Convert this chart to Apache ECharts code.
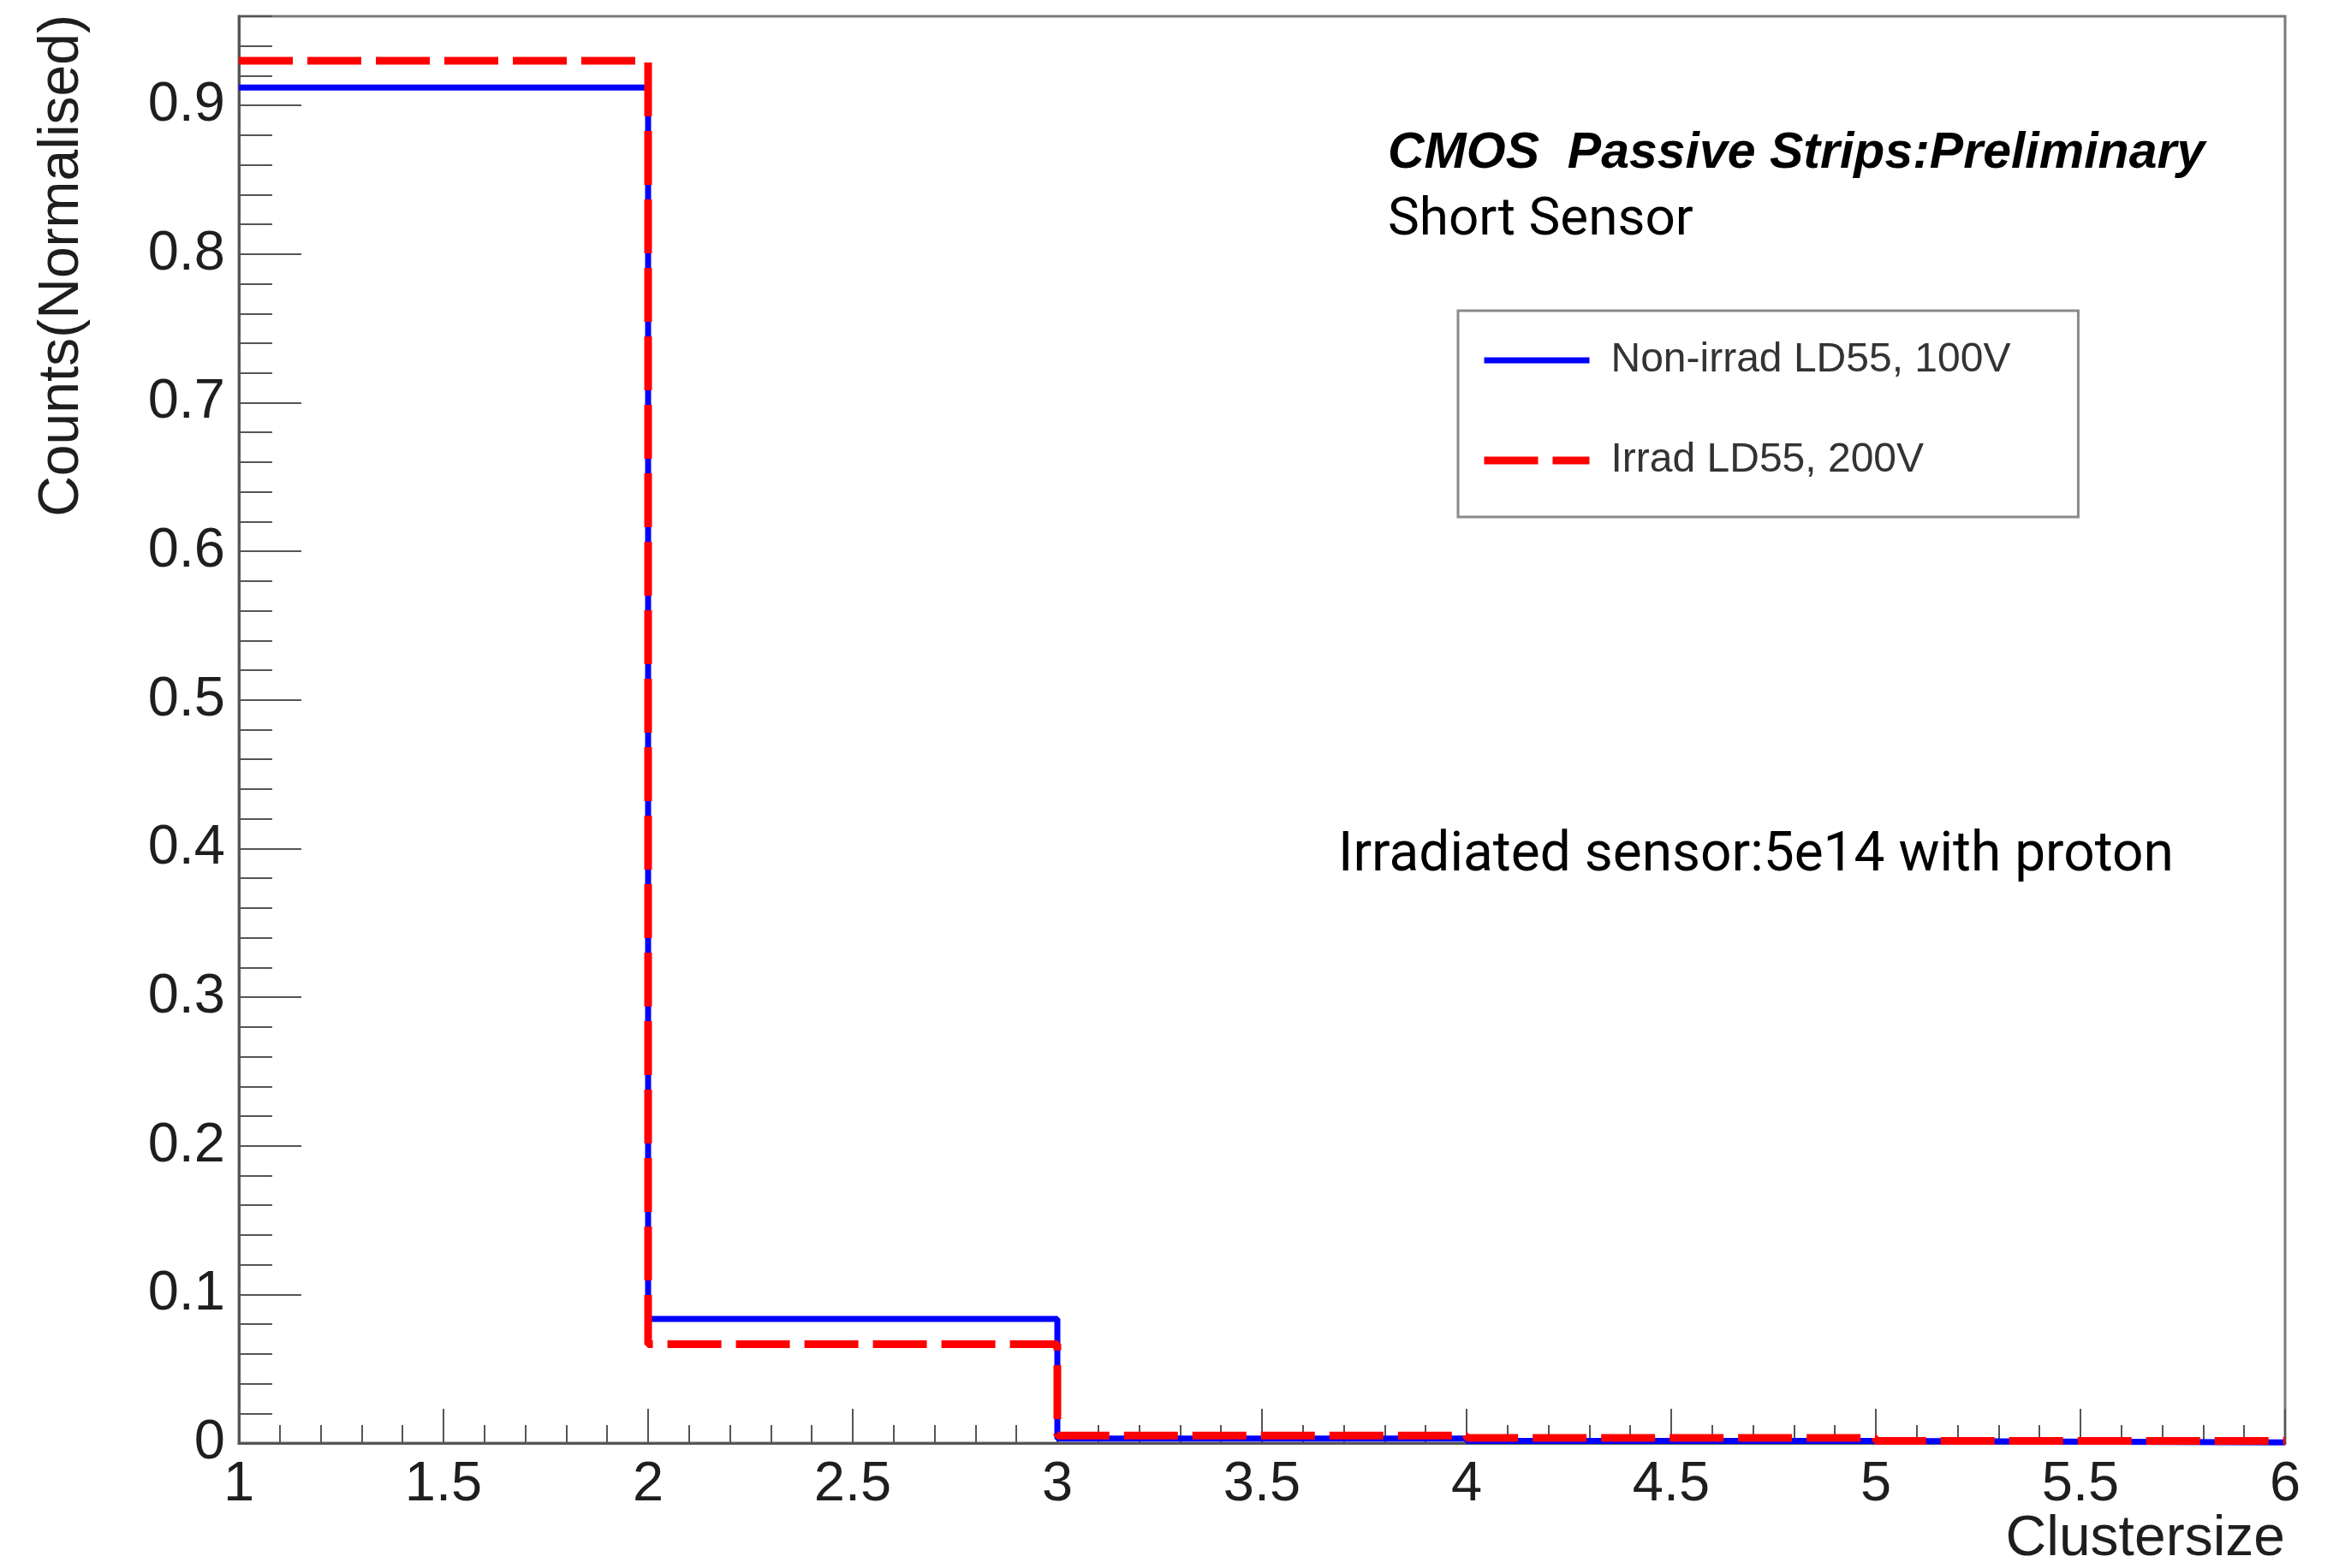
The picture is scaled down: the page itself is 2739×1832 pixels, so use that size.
<!DOCTYPE html>
<html>
<head>
<meta charset="utf-8">
<title>Cluster size – CMOS Passive Strips</title>
<script src="https://cdn.jsdelivr.net/npm/echarts@6/dist/echarts.min.js"></script>
<style>
  html, body { margin: 0; padding: 0; background: #ffffff; }
  #chart { width: 2739px; height: 1832px; }
</style>
</head>
<body>
<div id="chart"></div>
<script>
// Histogram bin edges (cluster size) and normalised counts per bin
const binEdges = [1, 2, 3, 4, 5, 6];
const nonIrradCounts = [0.912, 0.0835, 0.0030, 0.0015, 0.0005];
const irradCounts = [0.930, 0.0665, 0.0050, 0.0035, 0.0015];

const seriesNames = ['Non-irrad LD55, 100V', 'Irrad LD55, 200V'];
const xTitle = 'Clustersize';
const yTitle = 'Counts(Normalised)';
const headline = 'CMOS  Passive Strips:Preliminary';
const subline = 'Short Sensor';
const note = 'Irradiated sensor:5e14 with proton';

// Histogram outline: each bin value held from its lower edge to the next edge
function histPoints(edges, values) {
  const pts = values.map((v, i) => [edges[i], v]);
  pts.push([edges[edges.length - 1], values[values.length - 1]]);
  return pts;
}

const FONT = '"Liberation Sans", Arial, Helvetica, sans-serif';
const AXIS_COLOR = '#555555';
const LABEL_COLOR = '#1e1e1e';
const BLUE = '#0000ff';
const RED = '#ff0000';
const DASH = [63, 17];

const chart = echarts.init(document.getElementById('chart'), null, { renderer: 'canvas' });

chart.setOption({
  animation: false,
  backgroundColor: '#ffffff',
  grid: {
    left: 279, right: 70, top: 19, bottom: 146,
    show: true, borderColor: '#7a7a7a', borderWidth: 3, backgroundColor: 'transparent'
  },
  xAxis: {
    type: 'value', min: 1, max: 6, interval: 0.5,
    axisLine: { show: true, onZero: false, lineStyle: { color: AXIS_COLOR, width: 3 } },
    axisTick: { show: true, inside: true, length: 40, lineStyle: { color: AXIS_COLOR, width: 2 } },
    minorTick: { show: true, splitNumber: 5, length: 21, lineStyle: { color: AXIS_COLOR, width: 2 } },
    splitLine: { show: false },
    axisLabel: { margin: 17, fontSize: 65, color: LABEL_COLOR, fontFamily: FONT }
  },
  yAxis: [
    {
      type: 'value', min: 0, max: 0.96, interval: 0.1, position: 'left', offset: 0,
      axisLine: { show: true, lineStyle: { color: AXIS_COLOR, width: 3 } },
      axisTick: { show: true, inside: true, length: 73, lineStyle: { color: AXIS_COLOR, width: 2 } },
      splitLine: { show: false },
      axisLabel: { margin: 16, fontSize: 65, color: LABEL_COLOR, fontFamily: FONT, showMaxLabel: false }
    },
    {
      // secondary divisions every 0.02
      type: 'value', min: 0, max: 0.96, interval: 0.02, position: 'left', offset: 0,
      axisLine: { show: false },
      axisTick: { show: true, inside: true, length: 39, lineStyle: { color: AXIS_COLOR, width: 2 } },
      splitLine: { show: false },
      axisLabel: { show: false }
    }
  ],
  legend: {
    orient: 'vertical',
    left: 1703, top: 363,
    padding: [33, 79, 41, 26],
    itemWidth: 123, itemHeight: 14, itemGap: 67,
    borderColor: '#8a8a8a', borderWidth: 3, backgroundColor: '#ffffff',
    itemStyle: { opacity: 0 },
    textStyle: { fontSize: 48, lineHeight: 50, color: '#333333', fontFamily: FONT, padding: [0, 0, 0, 20] },
    data: [
      { name: seriesNames[0], lineStyle: { width: 7, color: BLUE } },
      { name: seriesNames[1], lineStyle: { width: 9, color: RED, type: DASH } }
    ]
  },
  series: [
    {
      name: seriesNames[0], type: 'line', step: 'end', symbol: 'none', z: 3,
      data: histPoints(binEdges, nonIrradCounts),
      lineStyle: { color: BLUE, width: 7 },
      itemStyle: { color: BLUE }
    },
    {
      name: seriesNames[1], type: 'line', step: 'end', symbol: 'none', z: 4,
      data: histPoints(binEdges, irradCounts),
      lineStyle: { color: RED, width: 9, type: DASH },
      itemStyle: { color: RED }
    }
  ],
  graphic: [
    {
      type: 'text', x: 73, y: 17, rotation: Math.PI / 2,
      style: { text: yTitle, font: '66px ' + FONT, fill: LABEL_COLOR, align: 'right', verticalAlign: 'middle' }
    },
    {
      type: 'text', x: 2669, y: 1799,
      style: { text: xTitle, font: '66px ' + FONT, fill: LABEL_COLOR, align: 'right', verticalAlign: 'middle' }
    },
    {
      type: 'text', x: 1621, y: 180,
      style: { text: headline, font: 'italic bold 59px ' + FONT, fill: '#000000', align: 'left', verticalAlign: 'middle' }
    },
    {
      type: 'text', x: 1621, y: 258,
      style: { text: subline, font: '62px Roboto, ' + FONT, fill: '#000000', align: 'left', verticalAlign: 'middle' }
    },
    {
      type: 'text', x: 1563, y: 1001,
      style: { text: note, font: '64px Roboto, ' + FONT, fill: '#000000', align: 'left', verticalAlign: 'middle' }
    }
  ]
});
</script>
</body>
</html>
